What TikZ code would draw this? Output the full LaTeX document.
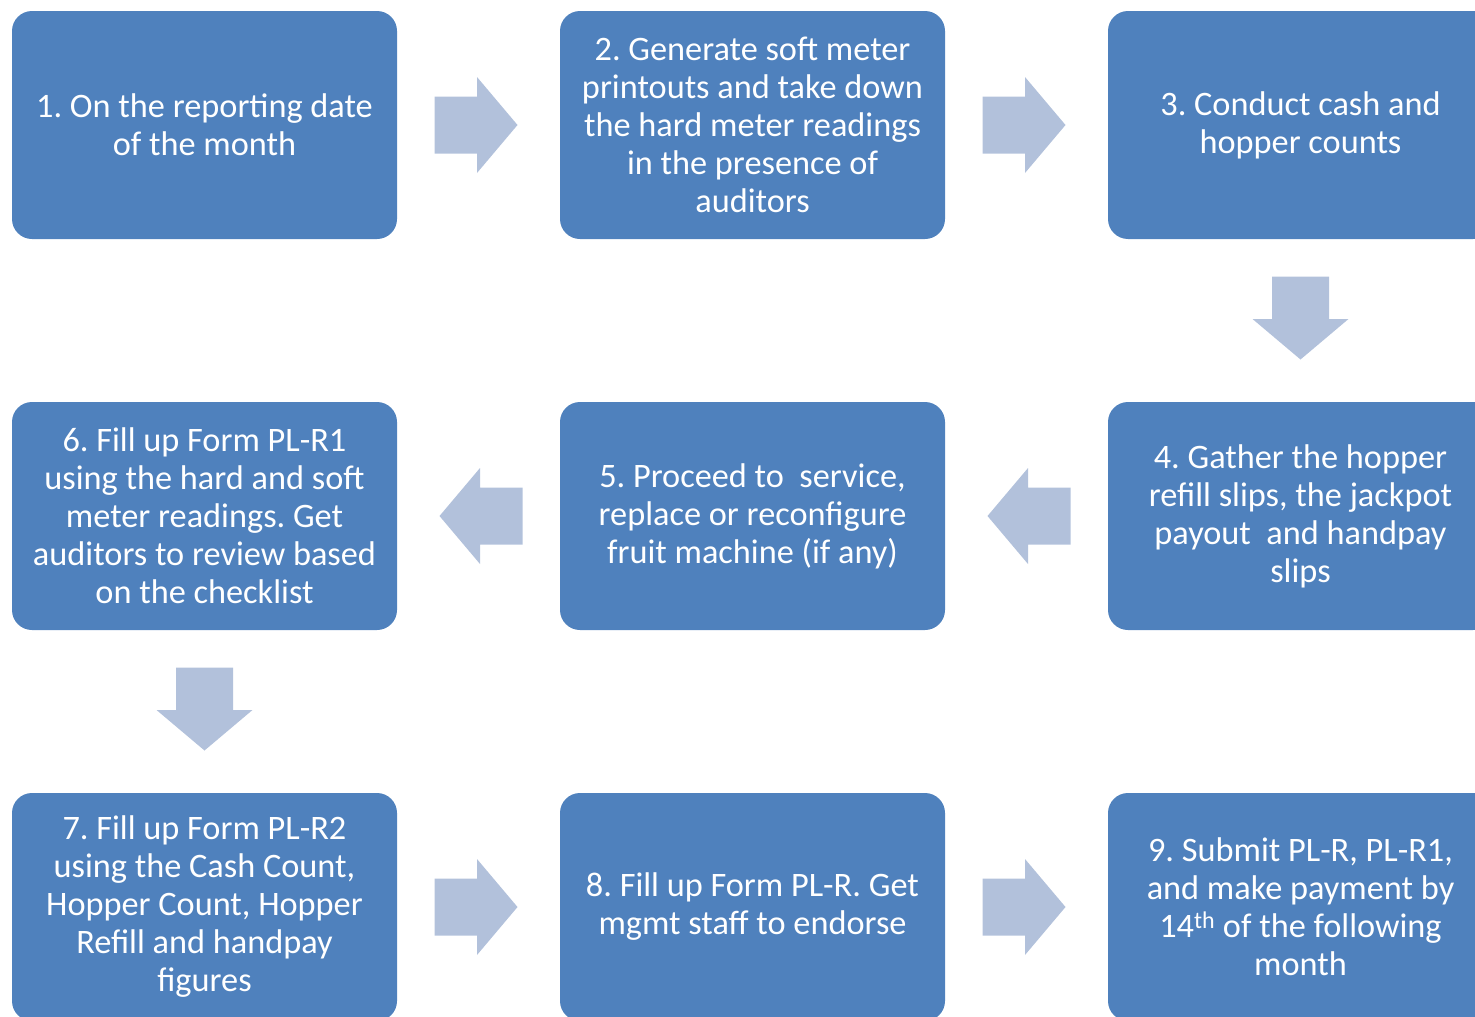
\documentclass[tikz,border=0pt]{standalone}
\usepackage{fontspec}
\setmainfont{Carlito}
\usetikzlibrary{calc}
\frenchspacing
\definecolor{boxblue}{HTML}{4F81BD}
\definecolor{arrowfill}{HTML}{B2C1DB}
\tikzset{
  stepbox/.style={fill=boxblue, rounded corners=20pt, minimum width=385pt, minimum height=228pt,
    inner sep=0pt, text=white, align=center, font=\fontsize{34.3}{38}\selectfont},
  barrow/.pic={\fill[arrowfill] (-44,-28.5) -- (-1.5,-28.5) -- (-1.5,-48) -- (39,0) -- (-1.5,48) -- (-1.5,28.5) -- (-44,28.5) -- cycle;}
}
\begin{document}
\begin{tikzpicture}[x=1pt,y=-1pt]
\useasboundingbox (0,0) rectangle (1475,1017);
\clip (0,0) rectangle (1475,1017);
\node[stepbox] (b1) at (204.5,125) {1. On the reporting date\\of the month};
\node[stepbox] (b2) at (752.5,125) {2. Generate soft meter\\printouts and take down\\the hard meter readings\\in the presence of\\auditors};
\node[stepbox] (b3) at (1300.5,125) {3. Conduct cash and\\hopper counts};
\node[stepbox] (b4) at (1300.5,516) {4. Gather the hopper\\refill slips, the jackpot\\payout\ \ and handpay\\slips};
\node[stepbox] (b5) at (752.5,516) {5. Proceed to\ \ service,\\replace or reconfigure\\fruit machine (if any)};
\node[stepbox] (b6) at (204.5,516) {6. Fill up Form PL-R1\\using the hard and soft\\meter readings. Get\\auditors to review based\\on the checklist};
\node[stepbox] (b7) at (204.5,907) {7. Fill up Form PL-R2\\using the Cash Count,\\Hopper Count, Hopper\\Refill and handpay\\figures};
\node[stepbox] (b8) at (752.5,907) {8. Fill up Form PL-R. Get\\mgmt staff to endorse};
\node[stepbox] (b9) at (1300.5,907) {9. Submit PL-R, PL-R1,\\and make payment by\\14\textsuperscript{th} of the following\\month};
\path ($(b1.east)!0.5!(b2.west)$) pic {barrow};
\path ($(b2.east)!0.5!(b3.west)$) pic {barrow};
\path ($(b3.south)!0.5!(b4.north)$) pic[rotate=-90] {barrow};
\path ($(b4.west)!0.5!(b5.east)$) pic[rotate=180] {barrow};
\path ($(b5.west)!0.5!(b6.east)$) pic[rotate=180] {barrow};
\path ($(b6.south)!0.5!(b7.north)$) pic[rotate=-90] {barrow};
\path ($(b7.east)!0.5!(b8.west)$) pic {barrow};
\path ($(b8.east)!0.5!(b9.west)$) pic {barrow};
\end{tikzpicture}
\end{document}
